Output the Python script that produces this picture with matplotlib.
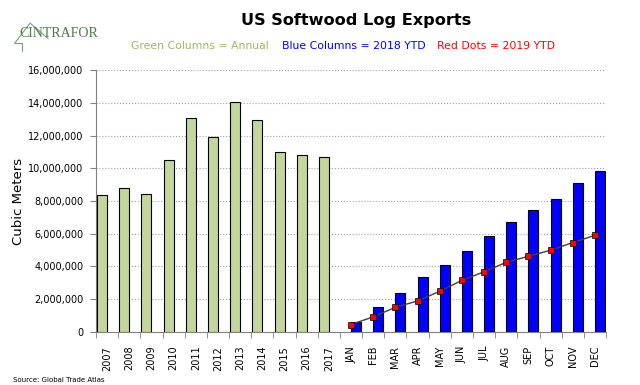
import numpy as np
import matplotlib.pyplot as plt

# categories along the x axis
years = ['2007', '2008', '2009', '2010', '2011', '2012', '2013', '2014', '2015', '2016', '2017']
months = ['JAN', 'FEB', 'MAR', 'APR', 'MAY', 'JUN', 'JUL', 'AUG', 'SEP', 'OCT', 'NOV', 'DEC']
# annual exports (cubic meters)
annual = [8370000, 8800000, 8430000, 10500000, 13100000, 11900000, 14050000, 12950000, 11000000, 10800000, 10700000]
# 2018 year-to-date
ytd_2018 = [590000, 1500000, 2380000, 3330000, 4090000, 4960000, 5840000, 6720000, 7450000, 8150000, 9100000, 9850000]
# 2019 year-to-date
ytd_2019 = [450000, 920000, 1500000, 1890000, 2480000, 3150000, 3670000, 4250000, 4620000, 4990000, 5460000, 5900000]

labels = years + months
x = np.arange(len(labels))
xa = x[:len(years)]
xm = x[len(years):]

fig = plt.figure(figsize=(6.4, 3.85), dpi=100)
ax = fig.add_axes([0.15, 0.138, 0.797, 0.68])

w = 0.45
ax.bar(xa, annual, width=-w, align='edge', color='#c4d79b', edgecolor='black', linewidth=0.8, zorder=3)
ax.bar(xm, ytd_2018, width=w, align='edge', color='#0000ff', edgecolor='black', linewidth=0.8, zorder=3)
ax.plot(xm, ytd_2019, color='#404040', linewidth=1, marker='s', markersize=4.5,
        markerfacecolor='#ff0000', markeredgecolor='black', markeredgewidth=0.5, zorder=4)

ax.set_xlim(-0.5, len(labels) - 0.5)
ax.set_ylim(0, 16000000)
ax.set_yticks(np.arange(0, 16000001, 2000000))
ax.yaxis.set_major_formatter(plt.FuncFormatter(lambda v, p: f'{int(v):,}'))
ax.tick_params(axis='y', labelsize=7, length=4, color='#808080', pad=5)
ax.grid(axis='y', linestyle=':', color='#a0a0a0', linewidth=0.8, zorder=0)

ax.set_xticks(x)
ax.set_xticklabels(labels, rotation=90, fontsize=7)
ax.set_xticks(np.arange(-0.5, len(labels)), minor=True)
ax.tick_params(axis='x', which='major', length=0, pad=10)
ax.tick_params(axis='x', which='minor', length=4, color='#808080')

for s in ['top', 'right']:
    ax.spines[s].set_visible(False)
ax.spines['left'].set_color('#808080')
ax.spines['bottom'].set_color('#808080')

ax.set_ylabel('Cubic Meters', fontsize=9.5)
ax.yaxis.set_label_coords(-0.14, 0.5)

fig.text(0.557, 0.948, 'US Softwood Log Exports', ha='center', va='center', fontsize=11.6, fontweight='bold')
fig.text(0.312, 0.88, 'Green Columns = Annual', ha='center', va='center', fontsize=7.8, color='#9bbb59')
fig.text(0.553, 0.88, 'Blue Columns = 2018 YTD', ha='center', va='center', fontsize=7.8, color='#0000ff')
fig.text(0.775, 0.88, 'Red Dots = 2019 YTD', ha='center', va='center', fontsize=7.8, color='#ff0000')
fig.text(0.02, 0.013, 'Source: Global Trade Atlas', ha='left', va='center', fontsize=5)

# logo
fig.text(0.031, 0.912, 'CINTRAFOR', ha='left', va='center', fontsize=10, color='#4a7a4a', family='Liberation Serif')
fig.add_artist(plt.Line2D([0.023, 0.047, 0.075], [0.888, 0.94, 0.9], color='#7aa07a', linewidth=0.8))
fig.add_artist(plt.Line2D([0.023, 0.034, 0.034], [0.888, 0.888, 0.868], color='#7aa07a', linewidth=0.8))

fig.savefig('out.png', dpi=100)
